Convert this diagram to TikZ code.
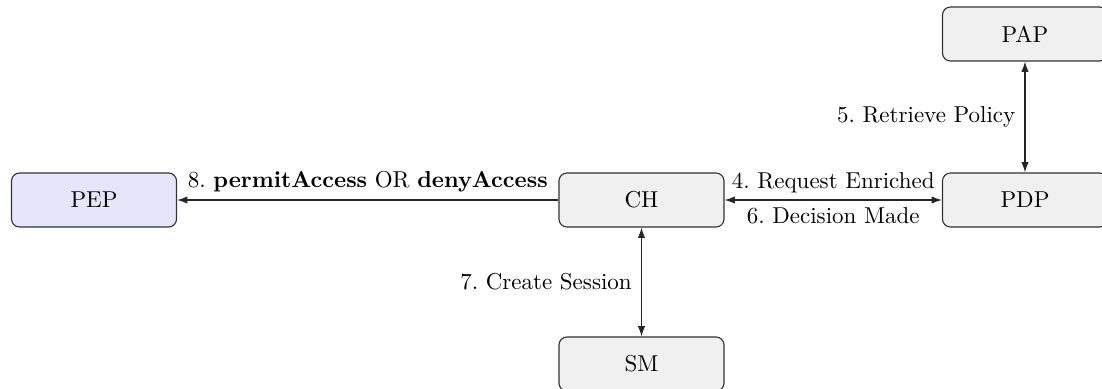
\documentclass[tikz,border=0pt]{standalone}
\usetikzlibrary{arrows.meta}
\definecolor{boxgray}{RGB}{240,240,240}
\definecolor{pepblue}{RGB}{230,230,250}
\begin{document}
\begin{tikzpicture}[x=0.435pt,y=-0.435pt,
  entity/.style={draw=black!80, line width=0.5pt, rounded corners=3.5pt, fill=boxgray,
    minimum width=71.8pt, minimum height=23.5pt, inner sep=0pt, font=\normalsize},
  conn/.style={line width=0.5pt, black!85},
  tip/.style={-{Latex[length=4.5pt,width=3.2pt]}},
  tips/.style={{Latex[length=4.5pt,width=3.2pt]}-{Latex[length=4.5pt,width=3.2pt]}}]
\useasboundingbox (0,0) rectangle (1102,388);
\clip (0,0) rectangle (1102,388);
\node[entity, fill=pepblue] (pep) at (94,200) {PEP};
\node[entity] (ch) at (641.5,200) {CH};
\node[entity] (pdp) at (1025,200) {PDP};
\node[entity] (pap) at (1025,34) {PAP};
\node[entity] (sm) at (641.5,364) {SM};
\draw[conn,tip] (ch) -- node[above, black, inner sep=3pt] {8.\ \textbf{permitAccess} OR \textbf{denyAccess}} (pep);
\draw[conn,tips] (ch) -- node[above, black, inner sep=3pt] {4.\ Request Enriched} node[below, black, inner sep=3pt] {6.\ Decision Made} (pdp);
\draw[conn,tips] (pdp) -- node[left, black, inner sep=4pt] {5.\ Retrieve Policy} (pap);
\draw[conn,tips] (ch) -- node[left, black, inner sep=4pt] {7.\ Create Session} (sm);
\end{tikzpicture}
\end{document}
